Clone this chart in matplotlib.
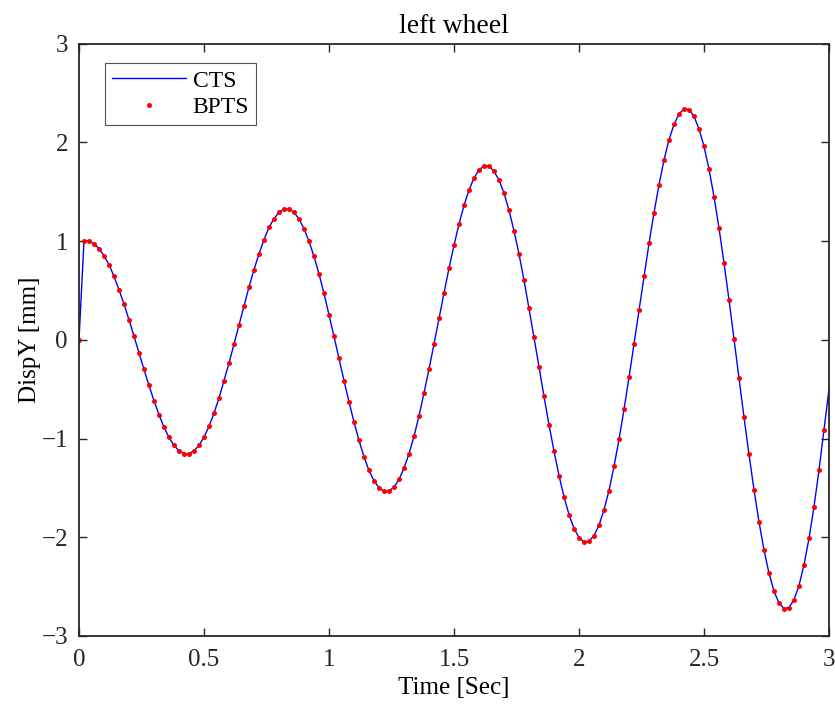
import numpy as np
import matplotlib
matplotlib.use("Agg")
import matplotlib.pyplot as plt

plt.rcParams['font.family'] = ['Liberation Serif', 'DejaVu Serif']

# time samples [s]
time = np.round(np.arange(151) * 0.02, 2)

# CTS displacement values [mm]
cts = [
    0.000, 1.000, 1.000, 0.973, 0.922, 0.851, 0.760, 0.642, 0.507, 0.361,
    0.203, 0.034, -0.132, -0.301, -0.463, -0.618, -0.760, -0.885, -0.989, -1.070,
    -1.124, -1.155, -1.155, -1.124, -1.070, -0.986, -0.878, -0.743, -0.591, -0.415,
    -0.236, -0.044, 0.152, 0.344, 0.534, 0.709, 0.871, 1.013, 1.138, 1.226,
    1.290, 1.324, 1.324, 1.290, 1.223, 1.124, 0.996, 0.844, 0.666, 0.469,
    0.253, 0.034, -0.189, -0.415, -0.628, -0.834, -1.020, -1.185, -1.324, -1.428,
    -1.499, -1.533, -1.533, -1.492, -1.415, -1.300, -1.155, -0.979, -0.770, -0.540,
    -0.297, -0.044, 0.216, 0.473, 0.724, 0.957, 1.172, 1.360, 1.516, 1.638,
    1.719, 1.762, 1.759, 1.705, 1.618, 1.486, 1.310, 1.104, 0.868, 0.601,
    0.317, 0.023, -0.274, -0.574, -0.861, -1.128, -1.375, -1.591, -1.770, -1.912,
    -2.003, -2.047, -2.040, -1.983, -1.878, -1.722, -1.527, -1.283, -1.010, -0.706,
    -0.382, -0.041, 0.305, 0.644, 0.976, 1.285, 1.570, 1.820, 2.026, 2.180,
    2.286, 2.338, 2.331, 2.262, 2.135, 1.957, 1.728, 1.449, 1.131, 0.778,
    0.404, 0.010, -0.387, -0.785, -1.162, -1.518, -1.845, -2.129, -2.365, -2.547,
    -2.667, -2.722, -2.712, -2.633, -2.489, -2.279, -2.012, -1.690, -1.320, -0.912,
    -0.500,
]

# BPTS points (same samples, up to t = 2.98 s)
bpts_time = time[:150]
bpts = cts[:150]

xticks = [0, 0.5, 1, 1.5, 2, 2.5, 3]
xticklabels = ['0', '0.5', '1', '1.5', '2', '2.5', '3']
yticks = [-3, -2, -1, 0, 1, 2, 3]
yticklabels = ['\u22123', '\u22122', '\u22121', '0', '1', '2', '3']

fig = plt.figure(figsize=(8.35, 7.09), dpi=100)
ax = fig.add_axes([79 / 835, 73 / 709, 750 / 835, 592.5 / 709])

ax.plot(time, cts, color='#0000ff', lw=1.0, label='CTS')
ax.plot(bpts_time, bpts, linestyle='none', marker='o', markersize=3.6,
        markerfacecolor='#ff0000', markeredgecolor='none', label='BPTS')

ax.set_xlim(0, 3)
ax.set_ylim(-3, 3)
ax.set_xticks(xticks)
ax.set_xticklabels(xticklabels)
ax.set_yticks(yticks)
ax.set_yticklabels(yticklabels)

fs = 18
ax.tick_params(direction='in', length=6, width=1.0, top=True, right=True,
               labelsize=fs, colors='#262626')
ax.tick_params(axis='x', pad=9)
ax.tick_params(axis='y', pad=8)
for s in ax.spines.values():
    s.set_linewidth(1.3)
    s.set_color('#262626')

ax.set_xlabel('Time [Sec]', fontsize=fs, labelpad=5)
ax.set_ylabel('DispY [mm]', fontsize=fs, labelpad=0)
ax.set_title('left wheel', fontsize=19.8, pad=7.5)

leg = ax.legend(loc='upper left', bbox_to_anchor=(0.035, 0.967), borderaxespad=0,
                fontsize=17, frameon=True, fancybox=False, handlelength=3.1,
                handletextpad=0.3, borderpad=0.3, labelspacing=0.2)
leg.get_frame().set_edgecolor('#262626')
leg.get_frame().set_linewidth(0.8)

fig.savefig('out.png', dpi=100)
